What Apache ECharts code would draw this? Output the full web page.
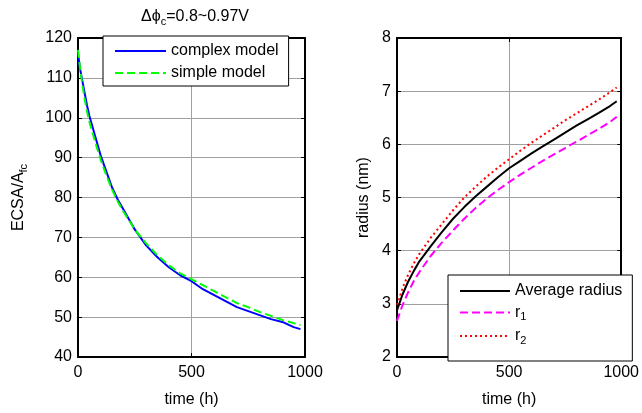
<!DOCTYPE html>
<html>
<head>
<meta charset="utf-8">
<script src="https://cdn.jsdelivr.net/npm/echarts@6/dist/echarts.min.js"></script>
<style>html,body{margin:0;padding:0;background:#fff;}#c{width:642px;height:413px;}</style>
</head>
<body>
<div id="c"></div>
<script>
// Left panel: ECSA vs time
var tLeft = [0, 10, 20, 30, 40, 50, 60, 75, 100, 125, 150, 175, 200, 250, 300, 350, 400, 450, 500, 550, 600, 650, 700, 750, 800, 850, 900, 950, 980];
var complexVals = [116, 112, 109, 106, 103, 100.5, 98.5, 95.5, 90.5, 86.5, 82.5, 79.5, 77, 72, 68, 65, 62.5, 60.5, 59, 57, 55.5, 54, 52.5, 51.5, 50.5, 49.5, 48.8, 47.5, 47];
var simpleVals  = [117, 112, 108, 104.5, 101.5, 99, 97, 94, 89.5, 85.5, 82, 79, 76.5, 72, 68.5, 65.5, 63, 61, 59.5, 58, 56.5, 55, 53.5, 52.5, 51.3, 50.3, 49.3, 48.5, 48];
// Right panel: radius vs time
var tRight = [0, 10, 25, 50, 75, 100, 150, 200, 250, 300, 350, 400, 450, 500, 550, 600, 650, 700, 750, 800, 850, 900, 950, 980];
var avgVals = [2.88, 3.0, 3.18, 3.42, 3.62, 3.8, 4.08, 4.35, 4.6, 4.82, 5.02, 5.2, 5.38, 5.55, 5.69, 5.83, 5.96, 6.09, 6.22, 6.35, 6.47, 6.59, 6.72, 6.81];
var r1Vals  = [2.68, 2.8, 2.98, 3.22, 3.43, 3.6, 3.9, 4.15, 4.38, 4.6, 4.8, 4.98, 5.14, 5.29, 5.43, 5.56, 5.69, 5.81, 5.93, 6.05, 6.17, 6.29, 6.42, 6.52];
var r2Vals  = [2.98, 3.1, 3.3, 3.55, 3.76, 3.94, 4.24, 4.5, 4.76, 5.0, 5.2, 5.39, 5.56, 5.72, 5.88, 6.03, 6.17, 6.31, 6.45, 6.58, 6.71, 6.84, 6.98, 7.07];

function pairs(t, v) { return t.map(function (x, i) { return [x, v[i]]; }); }

var FONT = 'Liberation Sans, Arial, sans-serif';
var gridColor = '#a0a0a0';
function plain(v) { return String(v); }

function mainX(gi) {
  return {
    type: 'value', gridIndex: gi, min: 0, max: 1000, interval: 500, position: 'bottom',
    name: 'time (h)', nameLocation: 'middle', nameGap: 35,
    nameTextStyle: { fontFamily: FONT, fontSize: 16, color: '#000' },
    axisLine: { show: true, onZero: false, lineStyle: { color: '#000', width: 2 } },
    axisTick: { show: true, inside: true, length: 4, lineStyle: { color: '#000' } },
    axisLabel: { fontFamily: FONT, fontSize: 16, color: '#000', margin: 8, formatter: plain },
    splitLine: { show: true, lineStyle: { color: gridColor, width: 1 } }
  };
}
function mirrorX(gi) {
  return {
    type: 'value', gridIndex: gi, min: 0, max: 1000, interval: 500, position: 'top',
    axisLine: { show: true, onZero: false, lineStyle: { color: '#000', width: 2 } },
    axisTick: { show: true, inside: true, length: 4, lineStyle: { color: '#000' } },
    axisLabel: { show: false }, splitLine: { show: false }
  };
}
function mainY(gi, mn, mx, itv, name, gap) {
  return {
    type: 'value', gridIndex: gi, min: mn, max: mx, interval: itv, position: 'left',
    name: name, nameLocation: 'middle', nameGap: gap, nameRotate: 90,
    nameTextStyle: {
      fontFamily: FONT, fontSize: 16, color: '#000',
      rich: {
        a: { fontFamily: FONT, fontSize: 16, color: '#000', lineHeight: 20 },
        s: { fontFamily: FONT, fontSize: 11, color: '#000', lineHeight: 6, verticalAlign: 'bottom' }
      }
    },
    axisLine: { show: true, onZero: false, lineStyle: { color: '#000', width: 2 } },
    axisTick: { show: true, inside: true, length: 4, lineStyle: { color: '#000' } },
    axisLabel: { fontFamily: FONT, fontSize: 16, color: '#000', margin: 6, formatter: plain },
    splitLine: { show: true, lineStyle: { color: gridColor, width: 1 } }
  };
}
function mirrorY(gi, mn, mx, itv) {
  return {
    type: 'value', gridIndex: gi, min: mn, max: mx, interval: itv, position: 'right',
    axisLine: { show: true, onZero: false, lineStyle: { color: '#000', width: 2 } },
    axisTick: { show: true, inside: true, length: 4, lineStyle: { color: '#000' } },
    axisLabel: { show: false }, splitLine: { show: false }
  };
}
function lineSeries(name, xi, yi, data, color, type) {
  return {
    name: name, type: 'line', xAxisIndex: xi, yAxisIndex: yi, data: data,
    symbol: 'none', showSymbol: false, smooth: false, animation: false,
    lineStyle: { color: color, width: 2, type: type },
    itemStyle: { color: color }
  };
}
var noSymbol = { color: 'rgba(0,0,0,0)', borderWidth: 0, opacity: 0 };

var chart = echarts.init(document.getElementById('c'), null, { renderer: 'canvas' });
chart.setOption({
  animation: false,
  backgroundColor: '#fff',
  title: {
    text: '{a|Δϕ}{s|c}{a|=0.8~0.97V}',
    left: 190, top: 2, textAlign: 'center',
    textStyle: {
      fontFamily: FONT, fontSize: 16, fontWeight: 'normal', color: '#000',
      rich: {
        a: { fontFamily: FONT, fontSize: 16, color: '#000', lineHeight: 20 },
        s: { fontFamily: FONT, fontSize: 11, color: '#000', lineHeight: 7, verticalAlign: 'bottom' }
      }
    }
  },
  grid: [
    { left: 78, top: 38, width: 227, height: 329, show: false },
    { left: 397, top: 38, width: 228, height: 329, show: false }
  ],
  xAxis: [mainX(0), mirrorX(0), mainX(1), mirrorX(1)],
  yAxis: [
    mainY(0, 40, 120, 10, '{a|ECSA/A}{s|fc}', 49),
    mirrorY(0, 40, 120, 10),
    mainY(1, 2, 8, 1, 'radius (nm)', 25),
    mirrorY(1, 2, 8, 1)
  ],
  legend: [
    {
      data: ['complex model', 'simple model'],
      left: 103, top: 36, orient: 'vertical', align: 'left',
      backgroundColor: '#fff', borderColor: '#000', borderWidth: 1, borderRadius: 0,
      padding: [7, 10, 5, 11], itemWidth: 51, itemHeight: 14, itemGap: 6,
      itemStyle: noSymbol,
      textStyle: { fontFamily: FONT, fontSize: 16, color: '#000', lineHeight: 16 },
      selectedMode: false
    },
    {
      data: ['Average radius', 'r1', 'r2'],
      left: 448, top: 275, orient: 'vertical', align: 'left',
      backgroundColor: '#fff', borderColor: '#000', borderWidth: 1, borderRadius: 0,
      padding: [8, 10, 15, 11], itemWidth: 50, itemHeight: 14, itemGap: 5.5,
      itemStyle: noSymbol,
      formatter: function (n) {
        if (n === 'r1') return '{n|r}{s|1}';
        if (n === 'r2') return '{n|r}{s|2}';
        return '{n|' + n + '}';
      },
      textStyle: {
        fontFamily: FONT, fontSize: 16, color: '#000',
        rich: {
          n: { fontFamily: FONT, fontSize: 16, color: '#000', lineHeight: 20 },
          s: { fontFamily: FONT, fontSize: 11, color: '#000', lineHeight: 6, verticalAlign: 'bottom' }
        }
      },
      selectedMode: false
    }
  ],
  series: [
    lineSeries('complex model', 0, 0, pairs(tLeft, complexVals), '#0000ff', 'solid'),
    lineSeries('simple model', 0, 0, pairs(tLeft, simpleVals), '#00ff00', [8, 4]),
    lineSeries('Average radius', 2, 2, pairs(tRight, avgVals), '#000000', 'solid'),
    lineSeries('r1', 2, 2, pairs(tRight, r1Vals), '#ff00ff', [8, 4]),
    lineSeries('r2', 2, 2, pairs(tRight, r2Vals), '#ff0000', [2, 3])
  ]
});
</script>
</body>
</html>
